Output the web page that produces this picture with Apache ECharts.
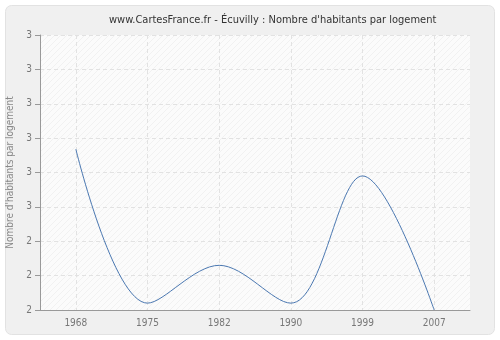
<!DOCTYPE html>
<html><head><meta charset="utf-8">
<script src="https://cdn.jsdelivr.net/npm/echarts@6/dist/echarts.min.js"></script>
<style>html,body{margin:0;padding:0;background:#fff}#c{width:500px;height:340px}</style>
</head><body><div id="c"></div>
<script>
const years = ['1968','1975','1982','1990','1999','2007'];
const values = [2.668, 2.22, 2.33, 2.22, 2.59, 2.2];
const yTicks = [2.2,2.3,2.4,2.5,2.6,2.7,2.8,2.9,3.0];
const yTickLabels = ['2','2','2','3','3','3','3','3','3'];

const pc = document.createElement('canvas');
pc.width = 6; pc.height = 6;
const g = pc.getContext('2d');
g.fillStyle = '#fbfbfb'; g.fillRect(0,0,6,6);
g.strokeStyle = '#f1f1f1'; g.lineWidth = 1;
g.beginPath();
g.moveTo(0,6); g.lineTo(6,0);
g.moveTo(-3,3); g.lineTo(3,-3);
g.moveTo(3,9); g.lineTo(9,3);
g.stroke();

const FONT = "'DejaVu Sans Condensed', 'DejaVu Sans'";
const chart = echarts.init(document.getElementById('c'));
chart.setOption({
  animation:false,
  textStyle:{fontFamily:FONT},
  graphic:[{type:'rect',z:-10,shape:{x:5.5,y:5.5,width:489,height:329,r:6},style:{fill:'#f0f0f0',stroke:'#e2e2e2',lineWidth:1}}],
  title:{text:"www.CartesFrance.fr - Écuvilly : Nombre d'habitants par logement",left:104,top:10,
    textStyle:{fontSize:11,fontWeight:'normal',color:'#333',fontFamily:FONT}},
  grid:{left:40,right:30,top:35,bottom:30,containLabel:false,outerBoundsMode:'none',show:true,backgroundColor:{image:pc,repeat:'repeat'},borderWidth:0},
  xAxis:{type:'category',data:years,boundaryGap:true,
    axisLine:{lineStyle:{color:'#999'}},
    axisTick:{alignWithLabel:true,length:5,lineStyle:{color:'#999'}},
    axisLabel:{color:'#777',fontSize:10,margin:8,fontFamily:FONT},
    splitLine:{show:true,alignWithLabel:true,lineStyle:{color:'#e2e2e2',type:[4,3]}}},
  yAxis:{type:'value',min:yTicks[0],max:yTicks[yTicks.length-1],interval:0.1,
    name:"Nombre d'habitants par logement",nameLocation:'middle',nameGap:17,
    nameTextStyle:{color:'#888',fontSize:10,fontFamily:FONT},
    axisLine:{show:true,lineStyle:{color:'#999'}},
    axisTick:{show:true,length:5,lineStyle:{color:'#999'}},
    axisLabel:{color:'#777',fontSize:10,margin:8,fontFamily:FONT,formatter:function(v){
      let i=yTicks.findIndex(t=>Math.abs(t-v)<1e-6);return i>=0?yTickLabels[i]:'';}},
    splitLine:{show:true,lineStyle:{color:'#e2e2e2',type:[4,3]}}},
  series:[{type:'line',data:values,smooth:0.35,showSymbol:false,
    lineStyle:{color:'#4a77b0',width:1}}]
});
</script></body></html>
